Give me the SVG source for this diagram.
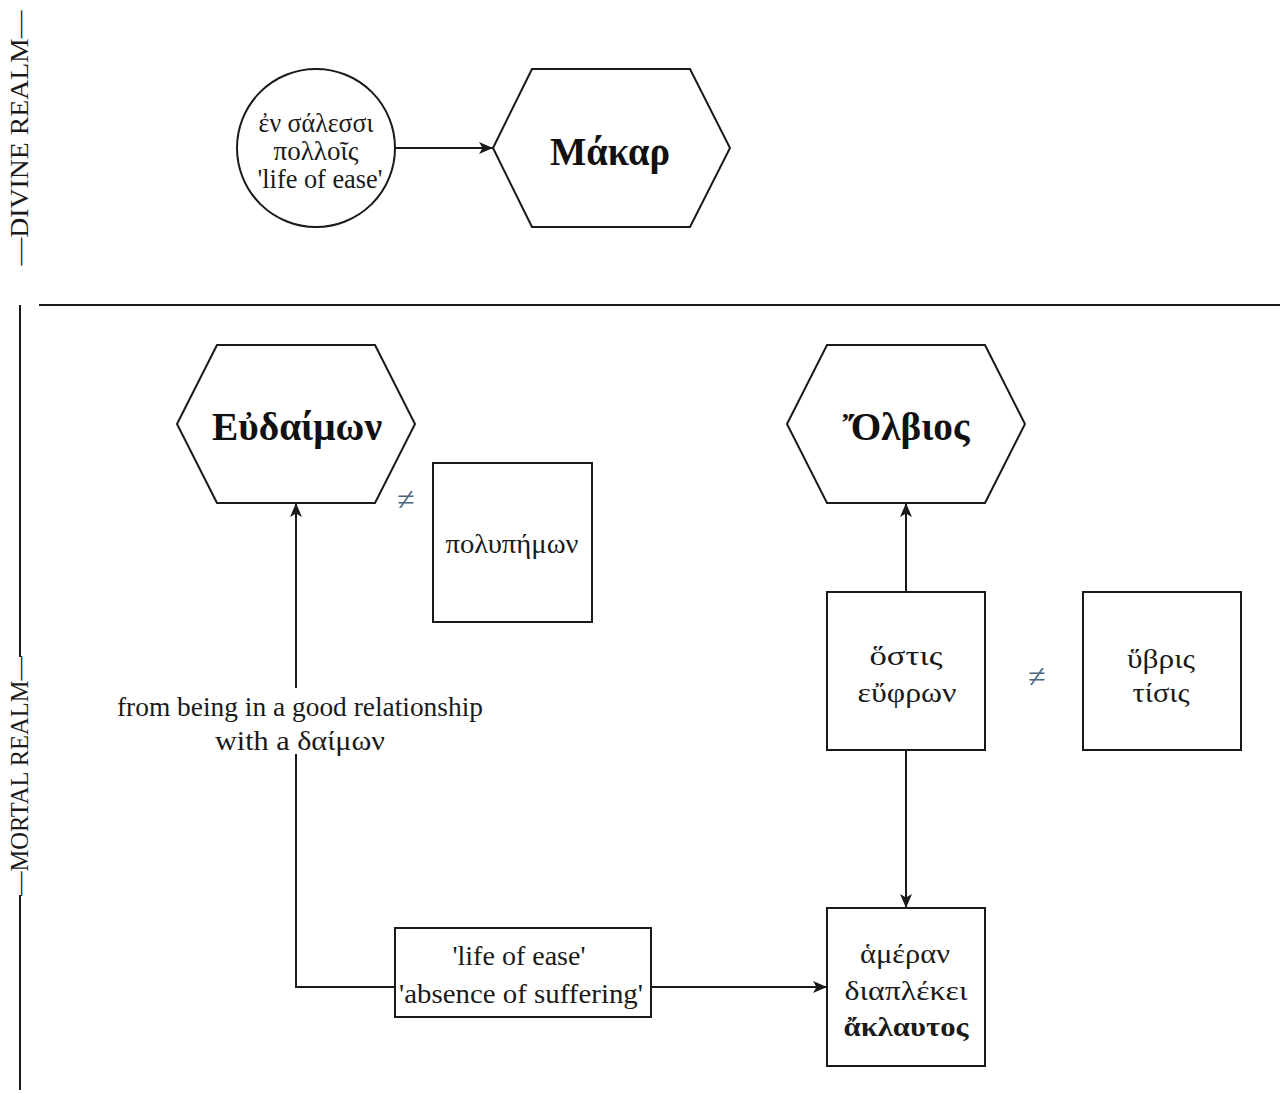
<svg xmlns="http://www.w3.org/2000/svg" width="1286" height="1093" viewBox="0 0 1286 1093">
  <defs>
    <style>
      .shape { fill: #ffffff; stroke: #1a1a1a; stroke-width: 2; }
      .edge { fill: none; stroke: #1a1a1a; stroke-width: 2; }
      .rule { fill: none; stroke: #1a1a1a; stroke-width: 2; }
      .t { font-family: "Liberation Serif", "Times New Roman", serif; font-size: 27px; fill: #1a1a1a; text-anchor: middle; }
      .g { font-size: 28px; }
      .title { font-family: "Liberation Serif", "Times New Roman", serif; font-size: 39px; font-weight: bold; fill: #111111; text-anchor: middle; }
      .realm { font-family: "Liberation Serif", "Times New Roman", serif; font-size: 26px; fill: #1a1a1a; text-anchor: middle; }
      .neq { font-family: "Liberation Serif", "Times New Roman", serif; font-size: 32px; fill: #4d6680; text-anchor: middle; }
      .b { font-weight: bold; }
    </style>
    <marker id="arrow" viewBox="0 0 14 12" refX="14" refY="6" markerWidth="14" markerHeight="12" markerUnits="userSpaceOnUse" orient="auto">
      <path d="M0,0 L14,6 L0,12 L3.5,6 Z" fill="#1a1a1a"/>
    </marker>
  </defs>

  <rect x="0" y="0" width="1286" height="1093" fill="#ffffff"/>

  <!-- realm dividers -->
  <g id="realms">
    <text class="realm" transform="translate(28,138) rotate(-90)" textLength="255" lengthAdjust="spacingAndGlyphs">—DIVINE REALM—</text>
    <line class="rule" x1="39" y1="305" x2="1280" y2="305"/>
    <line class="rule" x1="20" y1="305" x2="20" y2="657"/>
    <text class="realm" transform="translate(28,776) rotate(-90)" textLength="240" lengthAdjust="spacingAndGlyphs">—MORTAL REALM—</text>
    <line class="rule" x1="20" y1="895" x2="20" y2="1090"/>
  </g>

  <!-- connectors -->
  <g id="connectors">
    <line class="edge" x1="395" y1="148" x2="493" y2="148" marker-end="url(#arrow)"/>
    <path class="edge" d="M395,987 H296 V503" marker-end="url(#arrow)"/>
    <line class="edge" x1="651" y1="987" x2="827" y2="987" marker-end="url(#arrow)"/>
    <line class="edge" x1="906" y1="592" x2="906" y2="503" marker-end="url(#arrow)"/>
    <line class="edge" x1="906" y1="750" x2="906" y2="908" marker-end="url(#arrow)"/>
    <g id="edge-label">
      <rect x="112" y="688" width="376" height="66" fill="#ffffff"/>
      <text class="t" x="300" y="716" textLength="366" lengthAdjust="spacingAndGlyphs">from being in a good relationship</text>
      <text class="t" x="300" y="750" textLength="170" lengthAdjust="spacingAndGlyphs">with a δαίμων</text>
    </g>
  </g>

  <!-- divine realm -->
  <g id="node-ease-circle">
    <circle class="shape" cx="316" cy="148" r="79"/>
    <text class="t" x="316" y="132" font-size="25" textLength="115" lengthAdjust="spacingAndGlyphs">ἐν σάλεσσι</text>
    <text class="t" x="316" y="160" font-size="25" textLength="85" lengthAdjust="spacingAndGlyphs">πολλοῖς</text>
    <text class="t" x="320" y="188" font-size="25" textLength="125" lengthAdjust="spacingAndGlyphs">'life of ease'</text>
  </g>

  <g id="node-makar">
    <polygon class="shape" points="493,148 532,69 690,69 730,148 690,227 532,227"/>
    <text class="title" x="610" y="165" textLength="120" lengthAdjust="spacingAndGlyphs">Μάκαρ</text>
  </g>

  <!-- mortal realm -->
  <g id="node-eudaimon">
    <polygon class="shape" points="177,424 217,345 375,345 415,424 375,503 217,503"/>
    <text class="title" x="297" y="440" textLength="170" lengthAdjust="spacingAndGlyphs">Εὐδαίμων</text>
  </g>

  <g id="neq-polypemon">
    <text class="neq" x="406" y="510">≠</text>
  </g>

  <g id="node-polypemon">
    <rect class="shape" x="433" y="463" width="159" height="159"/>
    <text class="t g" x="512" y="553" textLength="133" lengthAdjust="spacingAndGlyphs">πολυπήμων</text>
  </g>

  <g id="node-olbios">
    <polygon class="shape" points="787,424 827,345 985,345 1025,424 985,503 827,503"/>
    <text class="title" x="906" y="440" textLength="127" lengthAdjust="spacingAndGlyphs">Ὄλβιος</text>
  </g>

  <g id="node-hostis">
    <rect class="shape" x="827" y="592" width="158" height="158"/>
    <text class="t g" x="906" y="665" textLength="73" lengthAdjust="spacingAndGlyphs">ὅστις</text>
    <text class="t g" x="907" y="702" textLength="99" lengthAdjust="spacingAndGlyphs">εὔφρων</text>
  </g>

  <g id="neq-hybris">
    <text class="neq" x="1037" y="687">≠</text>
  </g>

  <g id="node-hybris">
    <rect class="shape" x="1083" y="592" width="158" height="158"/>
    <text class="t g" x="1161" y="668" textLength="68" lengthAdjust="spacingAndGlyphs">ὕβρις</text>
    <text class="t g" x="1161" y="702" textLength="57" lengthAdjust="spacingAndGlyphs">τίσις</text>
  </g>

  <g id="node-life-of-ease">
    <rect class="shape" x="395" y="928" width="256" height="89"/>
    <text class="t" x="519" y="965" textLength="133" lengthAdjust="spacingAndGlyphs">'life of ease'</text>
    <text class="t" x="521" y="1003" textLength="244" lengthAdjust="spacingAndGlyphs">'absence of suffering'</text>
  </g>

  <g id="node-ameran">
    <rect class="shape" x="827" y="908" width="158" height="158"/>
    <text class="t g" x="905" y="963" textLength="90" lengthAdjust="spacingAndGlyphs">ἁμέραν</text>
    <text class="t g" x="906" y="1000" textLength="123" lengthAdjust="spacingAndGlyphs">διαπλέκει</text>
    <text class="t g b" x="906" y="1036" textLength="125" lengthAdjust="spacingAndGlyphs">ἄκλαυτος</text>
  </g>
</svg>
